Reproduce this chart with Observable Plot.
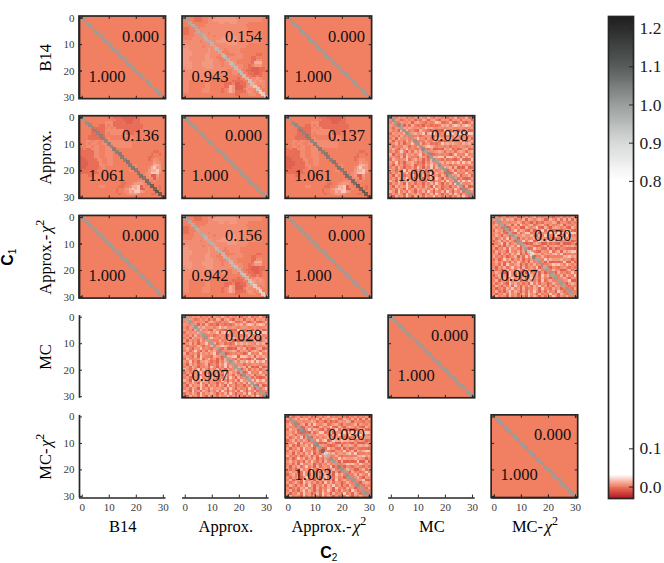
<!DOCTYPE html>
<html>
<head>
<meta charset="utf-8">
<script src="https://cdn.jsdelivr.net/npm/d3@7"></script>
<script src="https://cdn.jsdelivr.net/npm/@observablehq/plot@0.6"></script>
<style>
html,body{margin:0;padding:0;background:#fff;width:664px;height:563px;overflow:hidden}
#chart{position:relative;width:664px;height:563px}
#chart svg{position:absolute;top:0;background:transparent}
</style>
</head>
<body>
<div id="chart"></div>
<script>
const serif = "'Liberation Serif', serif";
const models = ["B14", "Approx.", "Approx.-χ2", "MC", "MC-χ2"];
const matrixTicks = [0, 10, 20, 30];
const colorbarTicks = [0.0, 0.1, 0.8, 0.9, 1.0, 1.1, 1.2];

// colour-map stops
const colorStops = [-0.03, 0, 0.03, 0.8, 0.9, 1.0, 1.1, 1.2315];
const colorRamp = ["#bb1c26", "#f17f62", "#ffffff", "#ffffff", "#d6d9d8", "#989e9c", "#565b59", "#1c1c1c"];

// Off-diagonal cell levels: one digit per cell, lower triangle of each symmetric matrix
const levels = [-0.012, -0.009, -0.005, 0, 0.003, 0.006, 0.011, 0.017];

const gridApproxOverB14 = [
"3","33","333","2233","22333","223344","3333444","33344444","444444344","4444444444",
"45444443444","554444444544","5554444445444","55544444554443","554444445544333",
"5544444455544333","55544445555444344","555444455554443444","4554444455544444444",
"44444444444444443344","444444444444334433443","4444444444443333333333",
"44434444444333333333233","443333334433333333222233","4433333344333332223112244",
"44333333443333322651112455","443333344433332346511135444","4433333444333323465222245434",
"33333333333333333332233344433","333333333333333333333333333333"];

const gridB14OverApprox = [
"3","33","333","3333","33332","333322","3332222","33322222","334434433","3343443344",
"33443443344","232244433444","2222244334443","22222443344433","122224433444333",
"1122224433443333","11122224334433333","111222244344333333","1122222343333333333",
"22222233333333333344","222222233333333333333","3332233333333333333333",
"33333333333333333333333","333333333333333333333444","3333333333333332233455543",
"33333334433333223346671433","333333333333323345676711433","3333333333333233446577543333",
"33333333333333233455543333223","333333333333333333333333333333"];

const gridNoiseMCApprox = [
"4","35","543","4254","53416","254546","4352634","35164453","515342635","3462514473",
"52433652436","463154734325","3524731526463","61435264535724","453261743326541",
"2643447246351426","53724155642315364","416352946134264735","3526414352741537264",
"64253726415362415346","253644735164453726451","4163524463526417352641",
"35264473416415362741635","641735564153327415362745","2536417352441536374153627",
"41635474163526417352341536","352641735264553627415342741","6417352641536274153627415362",
"25364173546415362741436274153","416352741635264473526415362741"];

const gridNoiseMCChi2 = [
"5","24","463","5342","26451","453621","3641542","52463715","146253641","4357162453",
"36241546372","514362745315","2635417436251","45163526471425","634251346152736",
"2513746253614253","46352416374251634","352617435614253634","415362473516245371",
"5241363527416352463","36451274362517436151","146352741635426351746",
"4253614735261473526341","36145274361526435172463","524631746352417362541364",
"2641536274153626473514264","41352647351624365173426351","362415736415263741526341752",
"5143627451362745163427351642","26354173526417364152637415363",
"345261437526341562374152634751"];

const gridIdentity = null;

// Main diagonals, one value per row
const diagUnit = [1,1,1,1,1,1,1,1,1,1,1,1,1,1,1,1,1,1,1,1,1,1,1,1,1,1,1,1,1,1,1];
const diagApproxOverB14 = [1,.99,.97,.96,.97,.96,.97,.96,.95,.96,.95,.96,.94,.95,.94,.94,.95,.93,.94,.93,.94,.93,.92,.93,.91,.92,.88,.9,.86,.87,.9];
const diagB14OverApprox = [1,1,1.02,1.03,1.03,1.05,1.04,1.05,1.05,1.04,1.05,1.04,1.06,1.05,1.06,1.06,1.05,1.07,1.06,1.07,1.06,1.07,1.08,1.07,1.09,1.08,1.12,1.1,1.14,1.13,1.1];
const diagNoiseLow = [1,.98,1,.97,1.01,.99,.98,1,1.01,.98,.99,1,.97,1.02,.98,1,.99,1.01,.98,1,.99,.97,1.01,1,.98,.99,1.01,.98,1,.99,1];
const diagNoiseHigh = [1,1.02,1,1.03,.99,1.01,1.02,1,.99,1.02,1.01,1,1.03,.98,1.02,1,1.01,.99,1.02,1,1.01,1.03,.99,1,1.02,1.01,.99,1.02,1,1.01,1];
const diagChi2Low = [1,.99,1,.98,1.01,.99,.97,1,.98,1.01,.99,.97,1,.9,.85,1.05,.98,1,1.02,.96,.99,1.01,.98,1,.99,1,.98,1.01,1,.99,1];
const diagChi2High = [1,1.01,1,1.02,.99,1.01,1.03,1,1.02,.99,1.01,1.03,1,1.09,.86,.96,1.02,1,.98,1.04,1.01,.99,1.02,1,1.01,1,1.02,.99,1,1.01,1];

// Panels that hold a matrix
const panelRows = ["B14","B14","B14","Approx.","Approx.","Approx.","Approx.","Approx.-χ2","Approx.-χ2","Approx.-χ2","Approx.-χ2","MC","MC","MC-χ2","MC-χ2"];
const panelCols = ["B14","Approx.","Approx.-χ2","B14","Approx.","Approx.-χ2","MC","B14","Approx.","Approx.-χ2","MC-χ2","Approx.","MC","Approx.-χ2","MC-χ2"];
const panelUpper = ["0.000","0.154","0.000","0.136","0.000","0.137","0.028","0.000","0.156","0.000","0.030","0.028","0.000","0.030","0.000"];
const panelLower = ["1.000","0.943","1.000","1.061","1.000","1.061","1.003","1.000","0.942","1.000","0.997","0.997","1.000","1.003","1.000"];
const panelGrids = [gridIdentity,gridApproxOverB14,gridIdentity,gridB14OverApprox,gridIdentity,gridB14OverApprox,gridNoiseMCApprox,gridIdentity,gridApproxOverB14,gridIdentity,gridNoiseMCChi2,gridNoiseMCApprox,gridIdentity,gridNoiseMCChi2,gridIdentity];
const panelDiags = [diagUnit,diagApproxOverB14,diagUnit,diagB14OverApprox,diagUnit,diagB14OverApprox,diagNoiseHigh,diagUnit,diagApproxOverB14,diagUnit,diagChi2Low,diagNoiseLow,diagUnit,diagChi2High,diagUnit];

const panels = panelRows.map((row, k) => ({row, col: panelCols[k], upper: panelUpper[k], lower: panelLower[k], grid: panelGrids[k], diag: panelDiags[k]}));
const indices = d3.range(31);
const cellValue = (p, i, j) => {
  if (!p.grid) return levels[3];
  const [a, b] = i > j ? [i, j] : [j, i];
  const ch = (p.grid[a - 1] || "")[b];
  return ch === undefined ? levels[3] : levels[+ch];
};
const cells = panels.flatMap(p => indices.flatMap(i => indices.filter(j => j !== i).map(j => ({row: p.row, col: p.col, i, j, v: cellValue(p, i, j)}))));
const diagonalCells = panels.flatMap(p => indices.map(i => ({row: p.row, col: p.col, i, v: p.diag[i]})));

const X0 = -1, X1 = 31, Y0 = -0.6, Y1 = 30.6, TX = 1.1, TY = 1.1;
const colorScale = {type: "linear", domain: colorStops, range: colorRamp, clamp: true};

// inward ticks
const frameTicksX = panels.flatMap(p => matrixTicks.flatMap(t => [
  {row: p.row, col: p.col, t, a: Y0, b: Y0 + TY}, {row: p.row, col: p.col, t, a: Y1 - TY, b: Y1}]));
const frameTicksY = panels.flatMap(p => matrixTicks.flatMap(t => [
  {row: p.row, col: p.col, t, a: X0, b: X0 + TX}, {row: p.row, col: p.col, t, a: X1 - TX, b: X1}]));
const leftSpineRows = models.map(row => ({row, col: "B14"}));
const bottomSpineCols = models.map(col => ({row: "MC-χ2", col}));
const leftTicks = leftSpineRows.flatMap(d => matrixTicks.map(t => ({...d, t})));
const bottomTicks = bottomSpineCols.flatMap(d => matrixTicks.map(t => ({...d, t})));

const ink = "#262626", tickInk = "#3c3c3c";

const main = Plot.plot({
  width: 664, height: 563,
  marginLeft: 79, marginRight: 86.3, marginTop: 16, marginBottom: 65.5,
  style: {background: "transparent", fontFamily: serif},
  x: {domain: [X0, X1], axis: null},
  y: {domain: [Y1, Y0], axis: null},
  fx: {domain: models, paddingInner: 0.16, paddingOuter: 0, round: false},
  fy: {domain: models, paddingInner: 0.171, paddingOuter: 0, round: false},
  color: colorScale,
  marks: [
    Plot.rect(panels, {fx: "col", fy: "row", x1: () => X0, x2: () => X1, y1: () => Y0, y2: () => Y1, fill: () => levels[3]}),
    Plot.rect(cells, {fx: "col", fy: "row", x1: d => d.j - 0.5, x2: d => d.j + 0.5, y1: d => d.i - 0.5, y2: d => d.i + 0.5, fill: "v", shapeRendering: "crispEdges"}),
    Plot.rect(diagonalCells, {fx: "col", fy: "row", x1: d => d.i - 0.5, x2: d => d.i + 0.5, y1: d => d.i - 0.5, y2: d => d.i + 0.5, fill: "v", stroke: "v", strokeWidth: 1.2, opacity: 0.74, shapeRendering: "crispEdges"}),
    Plot.rect(panels, {fx: "col", fy: "row", x1: () => X0, x2: () => X1, y1: () => Y0, y2: () => Y1, fill: "none", stroke: ink, strokeWidth: 1.7}),
    Plot.ruleX(frameTicksX, {fx: "col", fy: "row", x: "t", y1: "a", y2: "b", stroke: ink, strokeWidth: 1}),
    Plot.ruleY(frameTicksY, {fx: "col", fy: "row", y: "t", x1: "a", x2: "b", stroke: ink, strokeWidth: 1}),
    Plot.ruleX(leftSpineRows, {fx: "col", fy: "row", x: () => X0, y1: () => Y0, y2: () => Y1, stroke: ink, strokeWidth: 1.7}),
    Plot.ruleY(bottomSpineCols, {fx: "col", fy: "row", y: () => Y1, x1: () => X0, x2: () => X1, stroke: ink, strokeWidth: 1.7}),
    Plot.ruleY(leftTicks, {fx: "col", fy: "row", y: "t", x1: () => X0, x2: () => X0 + TX, stroke: ink, strokeWidth: 1}),
    Plot.ruleX(bottomTicks, {fx: "col", fy: "row", x: "t", y1: () => Y1 - TY, y2: () => Y1, stroke: ink, strokeWidth: 1}),
    Plot.text(panels, {fx: "col", fy: "row", text: "upper", x: () => 28.4, y: () => 6.9, textAnchor: "end", fontSize: 16.5, fontFamily: serif, fill: "#111"}),
    Plot.text(panels, {fx: "col", fy: "row", text: "lower", x: () => 2.3, y: () => 22, textAnchor: "start", fontSize: 16.5, fontFamily: serif, fill: "#111"}),
    Plot.axisX({anchor: "bottom", facetAnchor: "bottom", ticks: matrixTicks, tickFormat: d => `${d}`, tickSize: 0, tickPadding: 5, label: null, fontSize: 11, fontFamily: serif, color: tickInk}),
    Plot.axisY({anchor: "left", facetAnchor: "left", ticks: matrixTicks, tickFormat: d => `${d}`, tickSize: 0, tickPadding: 5, label: null, fontSize: 11, fontFamily: serif, color: tickInk}),
    Plot.axisFx({anchor: "bottom", tickSize: 0, tickPadding: 22, fontSize: 16.5, fontFamily: serif, label: "C2", labelAnchor: "center", labelArrow: "none", labelOffset: 60}),
    Plot.axisFy({anchor: "left", tickSize: 0, tickPadding: 29, tickRotate: -90, fontSize: 16.5, fontFamily: serif, label: "C1", labelAnchor: "center", labelArrow: "none", labelOffset: 78})
  ]
});
main.style.left = "0px";

// colour bar, sharing the colour scale
const barStep = 0.0025;
const barSteps = d3.range(colorStops[0], colorStops[colorStops.length - 1], barStep);
const bar = Plot.plot({
  width: 74, height: 563,
  marginLeft: 18, marginRight: 31, marginTop: 16, marginBottom: 65,
  style: {background: "transparent", fontFamily: serif},
  x: {domain: [0, 1], axis: null},
  y: {domain: [colorStops[0], colorStops[colorStops.length - 1]], axis: null},
  color: colorScale,
  marks: [
    Plot.rect(barSteps, {x1: () => 0, x2: () => 1, y1: d => d, y2: d => d + barStep, fill: d => d, shapeRendering: "crispEdges"}),
    Plot.frame({stroke: ink, strokeWidth: 1.7}),
    Plot.ruleY(colorbarTicks, {y: d => d, x1: () => 0.84, x2: () => 1, stroke: ink, strokeWidth: 1}),
    Plot.axisY({anchor: "right", ticks: colorbarTicks, tickFormat: d3.format(".1f"), tickSize: 0, tickPadding: 6, label: null, fontSize: 17.5, fontFamily: serif, color: "#222"})
  ]
});
bar.style.left = "590px";

const chart = document.getElementById("chart");
chart.append(main, bar);

// soften the matrices slightly, as in the source image
d3.select(main).selectAll('g[shape-rendering="crispEdges"]').style("filter", "blur(0.45px)");

// rich text for the model names and the two axis titles
d3.select(main).selectAll("text").each(function () {
  const s = this.textContent;
  if (s === "C1" || s === "C2") {
    const t = d3.select(this);
    t.text("");
    t.append("tspan").text("C").attr("font-family", "'Liberation Sans', sans-serif").attr("font-weight", "bold").attr("font-size", 16);
    t.append("tspan").text(s[1]).attr("font-family", "'Liberation Sans', sans-serif").attr("font-size", 10).attr("dy", "0.25em");
  } else if (s.endsWith("-χ2")) {
    const t = d3.select(this);
    t.text("");
    t.append("tspan").text(s.slice(0, -2));
    t.append("tspan").text("χ").attr("font-style", "italic").attr("dx", "0.1em");
    t.append("tspan").text("2").attr("font-size", 12).attr("dy", "-0.55em");
  }
});
</script>
</body>
</html>
